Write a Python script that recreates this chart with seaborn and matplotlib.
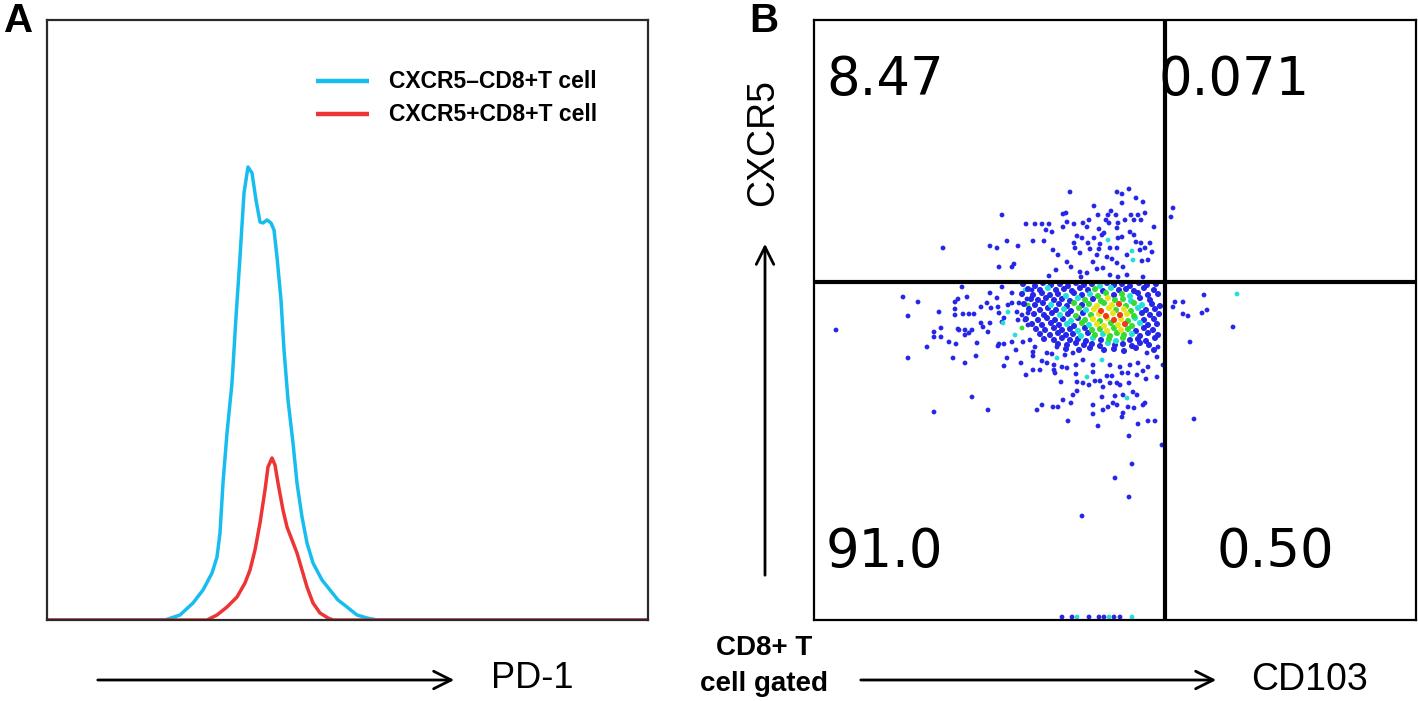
import matplotlib
matplotlib.use("Agg")
import matplotlib.pyplot as plt
from matplotlib.lines import Line2D
from matplotlib.patches import FancyArrowPatch
import seaborn as sns
import pandas as pd

# ---------------- Panel A data: PD-1 histograms (arbitrary units) ----------------
pd1_neg_x = [0, 118, 133, 146, 156, 165, 170, 173, 176, 180, 185, 189, 193, 197, 201, 205,
             209, 213, 216, 220, 224, 227, 230, 234, 237, 241, 246, 250, 255, 260, 266,
             275, 283, 291, 300, 310, 320, 330, 601]
pd1_neg_y = [0, 0, 5, 17, 30, 47, 63, 87, 137, 187, 237, 303, 363, 427, 453, 447,
             420, 398, 397, 400, 397, 390, 363, 320, 270, 220, 177, 137, 103, 77, 57,
             40, 30, 20, 13, 5, 2, 0, 0]
pd1_pos_x = [0, 160, 170, 180, 190, 198, 203, 208, 213, 218, 221, 225, 228, 231, 236, 240,
             245, 250, 255, 260, 266, 273, 281, 286, 601]
pd1_pos_y = [0, 0, 5, 13, 23, 37, 50, 70, 97, 130, 153, 162, 155, 137, 110, 93,
             80, 67, 50, 33, 17, 7, 2, 0, 0]
series_names = ["CXCR5\u2013CD8+T cell", "CXCR5+CD8+T cell"]
series_colors = ["#18bdef", "#ee3434"]

# ---------------- Panel B data: CD103 (x) vs CXCR5 (y) events ----------------
gate_x = 351
gate_y = 338
quadrant_values = ["8.47", "0.071", "91.0", "0.50"]   # UL, UR, LL, LR

upper_left_pts = [
    (188, 405, 'b'), (212, 396, 'b'), (221, 396, 'b'), (228, 396, 'b'), (235, 396, 'b'),
    (232, 390, 'b'), (238, 388, 'b'), (129, 372, 'b'), (176, 374, 'b'), (183, 372, 'b'),
    (193, 379, 'b'), (204, 374, 'b'), (219, 379, 'b'), (230, 379, 'b'), (239, 370, 'b'),
    (244, 365, 'b'), (185, 353, 'b'), (198, 353, 'b'), (200, 356, 'b'), (242, 350, 'b'),
    (235, 344, 'b'), (256, 428, 'b'), (303, 428, 'b'), (308, 426, 'b'), (315, 431, 'b'),
    (308, 417, 'b'), (322, 422, 'b'), (329, 418, 'b'), (280, 414, 'b'), (297, 409, 'b'),
    (249, 406, 'b'), (252, 407, 'b'), (284, 405, 'b'), (294, 405, 'b'), (302, 405, 'b'),
    (317, 405, 'b'), (324, 405, 'b'), (331, 407, 'b'), (253, 398, 'b'), (260, 396, 'b'),
    (269, 397, 'b'), (275, 400, 'b'), (292, 400, 'b'), (295, 397, 'b'), (304, 397, 'b'),
    (311, 400, 'b'), (320, 400, 'b'), (327, 400, 'b'), (340, 393, 'b'), (249, 393, 'b'),
    (273, 393, 'b'), (285, 391, 'b'), (303, 392, 'b'), (316, 388, 'b'), (290, 387, 'b'),
    (263, 384, 'b'), (268, 382, 'b'), (280, 382, 'b'), (288, 385, 'b'), (294, 380, 'c'),
    (304, 382, 'b'), (308, 383, 'b'), (320, 385, 'b'), (260, 377, 'b'), (274, 377, 'b'),
    (286, 376, 'b'), (296, 372, 'b'), (303, 372, 'b'), (322, 378, 'b'), (327, 377, 'b'),
    (336, 377, 'b'), (261, 372, 'b'), (276, 371, 'b'), (285, 371, 'b'), (318, 369, 'c'),
    (326, 370, 'b'), (331, 372, 'b'), (338, 368, 'b'), (266, 367, 'b'), (283, 365, 'b'),
    (293, 363, 'b'), (298, 361, 'b'), (313, 365, 'b'), (319, 360, 'c'), (328, 359, 'b'),
    (334, 360, 'b'), (253, 358, 'b'), (279, 358, 'b'), (303, 357, 'b'), (257, 353, 'b'),
    (283, 351, 'b'), (289, 352, 'b'), (309, 353, 'b'), (266, 348, 'b'), (273, 347, 'b'),
    (296, 345, 'b'), (304, 343, 'b'), (313, 345, 'b'), (329, 343, 'b'), (267, 343, 'b'),
]

right_pts = [
    (359, 412, 'b'), (357, 403, 'b'), (361, 318, 'b'), (369, 318, 'b'), (359, 313, 'b'),
    (390, 325, 'b'), (423, 326, 'c'), (369, 306, 'b'), (374, 304, 'b'), (388, 307, 'b'),
    (393, 310, 'b'), (419, 293, 'b'), (376, 278, 'b'), (380, 201, 'b'), (348, 175, 'b'),
]

lower_left_pts = [
    (113, 273, 'b'), (94, 262, 'b'), (135, 278, 'b'), (139, 262, 'b'), (151, 257, 'b'),
    (162, 264, 'b'), (185, 276, 'b'), (190, 276, 'b'), (198, 278, 'b'), (209, 278, 'b'),
    (221, 273, 'b'), (202, 270, 'b'), (219, 268, 'b'), (219, 264, 'b'), (193, 262, 'b'),
    (190, 254, 'b'), (207, 257, 'b'), (228, 259, 'b'), (233, 257, 'b'), (238, 266, 'b'),
    (240, 255, 'b'), (243, 262, 'c'), (212, 245, 'b'), (219, 250, 'b'), (226, 250, 'b'),
    (240, 250, 'b'), (158, 223, 'b'), (120, 208, 'b'), (174, 210, 'b'), (223, 210, 'b'),
    (228, 215, 'b'), (239, 213, 'b'), (244, 213, 'b'), (254, 199, 'b'), (249, 220, 'b'),
    (257, 217, 'b'), (259, 225, 'b'), (263, 229, 'b'), (279, 215, 'b'), (279, 206, 'b'),
    (289, 210, 'b'), (294, 213, 'b'), (284, 194, 'b'), (299, 217, 'b'), (303, 215, 'b'),
    (309, 207, 'b'), (308, 203, 'b'), (314, 213, 'b'), (320, 212, 'b'), (309, 225, 'b'),
    (319, 228, 'b'), (323, 225, 'b'), (313, 222, 'c'), (331, 217, 'b'), (329, 215, 'b'),
    (324, 196, 'b'), (334, 199, 'b'), (341, 199, 'b'), (315, 184, 'b'), (318, 156, 'b'),
    (301, 142, 'b'), (315, 123, 'b'), (268, 104, 'b'), (288, 223, 'b'), (301, 224, 'b'),
    (306, 235, 'b'), (315, 237, 'b'), (303, 237, 'b'), (296, 237, 'b'), (289, 233, 'b'),
    (286, 239, 'b'), (281, 239, 'b'), (275, 235, 'b'), (269, 237, 'b'), (263, 238, 'b'),
    (247, 238, 'b'), (343, 243, 'b'), (332, 241, 'b'), (329, 249, 'b'), (323, 245, 'b'),
    (314, 247, 'b'), (308, 247, 'b'), (298, 244, 'b'), (293, 244, 'b'), (279, 248, 'b'),
    (273, 243, 'c'), (262, 246, 'b'), (253, 252, 'b'), (241, 247, 'b'), (248, 253, 'b'),
    (262, 255, 'b'), (269, 260, 'b'), (279, 255, 'b'), (288, 260, 'c'), (296, 255, 'b'),
    (306, 253, 'b'), (316, 255, 'b'), (324, 257, 'b'), (334, 253, 'b'), (343, 263, 'b'),
    (344, 273, 'b'), (349, 255, 'b'), (233, 267, 'b'), (251, 265, 'b'), (259, 267, 'b'),
    (243, 273, 'b'), (333, 267, 'b'),
    (22, 290, 'b'), (89, 323, 'b'), (104, 318, 'b'), (94, 304, 'b'), (148, 333, 'b'),
    (125, 308, 'b'), (141, 318, 'b'), (144, 321, 'b'), (153, 323, 'b'), (141, 311, 'b'),
    (141, 305, 'b'), (149, 306, 'b'), (155, 306, 'b'), (160, 306, 'b'), (127, 292, 'b'),
    (120, 288, 'b'), (120, 283, 'b'), (127, 283, 'b'), (144, 291, 'b'), (151, 290, 'b'),
    (155, 287, 'b'), (158, 290, 'b'), (151, 285, 'b'), (167, 313, 'b'), (167, 297, 'b'),
    (169, 293, 'b'), (174, 288, 'b'), (176, 297, 'b'), (173, 317, 'b'), (177, 312, 'b'),
    (176, 327, 'b'), (183, 322, 'b'), (188, 333, 'b'), (198, 327, 'b'), (184, 313, 'b'),
    (185, 307, 'b'), (189, 297, 'c'), (190, 302, 'b'), (194, 308, 'c'), (194, 315, 'b'),
    (198, 317, 'b'), (205, 317, 'b'), (203, 308, 'b'), (211, 330, 'c'), (218, 330, 'b'),
    (214, 315, 'g'), (213, 321, 'b'), (208, 305, 'b'), (214, 307, 'b'), (204, 300, 'b'),
    (211, 300, 'b'), (214, 295, 'b'), (201, 285, 'c'), (208, 292, 'g'), (216, 280, 'b'),
    (188, 298, 'b'), (145, 290, 'b'), (142, 276, 'b'), (163, 277, 'b'), (184, 274, 'b'),
]

core_pts = [
    (209, 336, 'b'), (221, 334, 'b'), (229, 337, 'b'), (237, 335, 'b'), (246, 336, 'b'), (254, 334, 'b'),
    (262, 337, 'b'), (270, 335, 'b'), (278, 336, 'b'), (286, 334, 'c'), (293, 337, 'b'), (300, 335, 'b'),
    (308, 336, 'b'), (316, 334, 'b'), (325, 337, 'b'), (333, 335, 'b'), (342, 336, 'b'),
    (214, 331, 'b'), (226, 330, 'b'), (234, 332, 'c'), (242, 330, 'b'), (250, 331, 'b'), (258, 329, 'b'),
    (266, 332, 'b'), (274, 330, 'b'), (281, 331, 'g'), (289, 329, 'b'), (297, 332, 'c'), (305, 330, 'b'),
    (312, 331, 'b'), (320, 329, 'b'), (330, 332, 'b'), (340, 330, 'b'),
    (208, 326, 'b'), (219, 325, 'b'), (228, 327, 'b'), (236, 325, 'b'), (244, 326, 'b'), (252, 324, 'c'),
    (260, 327, 'b'), (268, 325, 'b'), (276, 326, 'c'), (284, 324, 'g'), (292, 327, 'g'), (300, 325, 'b'),
    (308, 326, 'g'), (316, 324, 'c'), (324, 327, 'b'), (334, 325, 'b'), (344, 326, 'b'),
    (217, 321, 'b'), (224, 320, 'b'), (232, 322, 'b'), (240, 320, 'b'), (248, 321, 'b'), (256, 319, 'b'),
    (264, 322, 'c'), (271, 320, 'g'), (279, 321, 'b'), (287, 319, 'g'), (294, 322, 'y'), (301, 320, 'g'),
    (309, 321, 'g'), (317, 319, 'c'), (326, 322, 'b'), (336, 320, 'b'),
    (210, 316, 'b'), (221, 315, 'b'), (229, 317, 'b'), (237, 315, 'c'), (245, 316, 'b'), (253, 314, 'b'),
    (260, 317, 'g'), (268, 315, 'b'), (275, 316, 'g'), (283, 314, 'y'), (290, 317, 'g'), (298, 315, 'y'),
    (305, 316, 'r'), (312, 314, 'g'), (320, 317, 'g'), (328, 315, 'c'), (338, 316, 'b'), (346, 314, 'b'),
    (215, 311, 'b'), (226, 310, 'b'), (234, 312, 'b'), (242, 310, 'b'), (250, 311, 'c'), (257, 309, 'b'),
    (265, 312, 'g'), (272, 310, 'c'), (280, 311, 'y'), (287, 309, 'r'), (295, 312, 'y'), (302, 310, 'g'),
    (310, 311, 'y'), (317, 309, 'g'), (324, 312, 'c'), (332, 310, 'b'), (341, 311, 'b'),
    (220, 306, 'b'), (230, 305, 'b'), (238, 307, 'b'), (246, 305, 'c'), (254, 306, 'b'), (262, 304, 'g'),
    (269, 307, 'b'), (277, 305, 'g'), (285, 306, 'y'), (292, 304, 'r'), (299, 307, 'y'), (306, 305, 'r'),
    (313, 306, 'y'), (320, 304, 'g'), (328, 307, 'b'), (336, 305, 'b'), (345, 306, 'b'),
    (212, 301, 'b'), (224, 300, 'b'), (233, 302, 'b'), (241, 300, 'b'), (249, 301, 'b'), (257, 299, 'c'),
    (264, 302, 'b'), (271, 300, 'g'), (279, 301, 'y'), (286, 299, 'g'), (293, 302, 'y'), (300, 300, 'r'),
    (307, 301, 'y'), (314, 299, 'g'), (321, 302, 'c'), (330, 300, 'b'), (340, 301, 'b'),
    (218, 296, 'b'), (228, 295, 'b'), (237, 297, 'b'), (245, 295, 'b'), (253, 296, 'c'), (260, 294, 'b'),
    (268, 297, 'g'), (275, 295, 'c'), (283, 296, 'y'), (290, 294, 'y'), (297, 297, 'g'), (304, 295, 'y'),
    (311, 296, 'r'), (318, 294, 'g'), (326, 297, 'c'), (334, 295, 'b'), (343, 296, 'b'),
    (222, 291, 'b'), (231, 290, 'b'), (240, 292, 'b'), (248, 290, 'b'), (256, 291, 'b'), (264, 289, 'c'),
    (271, 292, 'b'), (278, 290, 'g'), (286, 291, 'g'), (293, 289, 'y'), (300, 292, 'g'), (307, 290, 'y'),
    (314, 291, 'g'), (322, 289, 'b'), (330, 292, 'b'), (339, 290, 'b'),
    (226, 286, 'b'), (236, 285, 'b'), (244, 287, 'b'), (252, 285, 'b'), (259, 286, 'b'), (267, 284, 'c'),
    (274, 287, 'b'), (281, 285, 'g'), (289, 286, 'c'), (296, 284, 'g'), (303, 287, 'g'), (310, 285, 'g'),
    (318, 286, 'c'), (326, 284, 'b'), (334, 287, 'b'), (344, 285, 'b'),
    (230, 281, 'b'), (240, 280, 'b'), (248, 282, 'b'), (256, 280, 'b'), (264, 281, 'b'), (272, 279, 'b'),
    (279, 282, 'c'), (287, 280, 'b'), (295, 281, 'g'), (302, 279, 'c'), (309, 282, 'g'), (316, 280, 'b'),
    (324, 281, 'b'), (332, 279, 'b'), (341, 282, 'b'),
    (244, 276, 'b'), (253, 275, 'b'), (262, 277, 'b'), (270, 275, 'b'), (278, 276, 'b'), (286, 274, 'b'),
    (294, 277, 'c'), (301, 275, 'b'), (309, 276, 'b'), (318, 274, 'b'), (326, 277, 'b'), (335, 275, 'b'),
    (252, 271, 'b'), (265, 270, 'b'), (276, 272, 'b'), (290, 270, 'b'), (300, 271, 'b'), (310, 269, 'b'),
    (322, 272, 'b'), (340, 270, 'b'),
]

edge_pts = [
    (248, 3, 'b'), (258, 3, 'b'), (263, 3, 'c'), (275, 3, 'b'), (285, 3, 'b'), (290, 3, 'b'),
    (295, 3, 'c'), (300, 3, 'b'), (306, 3, 'b'), (318, 3, 'c'),
]

level_order = ['b', 'c', 'g', 'y', 'r']
level_colors = {'b': '#2626e8', 'c': '#22e0d8', 'g': '#34dc34', 'y': '#e8e41c', 'r': '#f03a16'}

# ---------------- build ----------------
sns.set_style("white")
plt.rcParams['font.family'] = ['Liberation Sans', 'DejaVu Sans']
plt.rcParams['text.color'] = 'black'

fig = plt.figure(figsize=(14.18, 7.01), dpi=100)
W, H = 1418.0, 701.0
axA = fig.add_axes([47 / W, 81 / H, 601 / W, 600 / H])
axB = fig.add_axes([814 / W, 81 / H, 602 / W, 600 / H])

# Panel A
sns.lineplot(x=pd1_neg_x, y=pd1_neg_y, sort=False, color=series_colors[0], lw=2.5, ax=axA)
sns.lineplot(x=pd1_pos_x, y=pd1_pos_y, sort=False, color=series_colors[1], lw=2.5, ax=axA)
axA.set_xlim(0, 601)
axA.set_ylim(0, 600)
axA.set_xticks([])
axA.set_yticks([])
axA.set_xlabel("")
axA.set_ylabel("")
for sp in axA.spines.values():
    sp.set_visible(True)
    sp.set_color("#2a2a2a")
    sp.set_linewidth(1.6)
    sp.set_zorder(5)

# legend (manual, matches reference placement)
for i, (name, col) in enumerate(zip(series_names, series_colors)):
    yy = 0.898 - i * 0.055
    axA.add_line(Line2D([0.4476, 0.5358], [yy, yy], transform=axA.transAxes,
                        color=col, lw=3.2, solid_capstyle='butt'))
    axA.text(0.569, yy, name, transform=axA.transAxes, ha='left', va='center',
             fontsize=16.5, fontweight='bold', color='black')

# Panel B
sparse = pd.DataFrame(upper_left_pts + right_pts + lower_left_pts + edge_pts,
                      columns=['CD103', 'CXCR5', 'level'])
core = pd.DataFrame(core_pts, columns=['CD103', 'CXCR5', 'level'])
rank = {k: i for i, k in enumerate(level_order)}
for frame, size in ((sparse, 12), (core, 19)):
    frame = frame.assign(rank=frame['level'].map(rank)).sort_values('rank', kind='stable')
    sns.scatterplot(data=frame, x='CD103', y='CXCR5', hue='level', hue_order=level_order,
                    palette=level_colors, s=size, linewidth=0, legend=False, ax=axB, zorder=2)
axB.set_xlim(0, 602)
axB.set_ylim(0, 600)
axB.set_xticks([])
axB.set_yticks([])
axB.set_xlabel("")
axB.set_ylabel("")
for sp in axB.spines.values():
    sp.set_visible(True)
    sp.set_color("black")
    sp.set_linewidth(1.6)
    sp.set_zorder(5)
axB.axvline(gate_x, color='black', lw=3.0, zorder=4)
axB.axhline(gate_y, color='black', lw=3.0, zorder=4)

qpos = [(0.020, 0.900), (0.573, 0.900), (0.020, 0.113), (0.669, 0.113)]
for (qx, qy), val in zip(qpos, quadrant_values):
    axB.text(qx, qy, val, transform=axB.transAxes, ha='left', va='center',
             fontsize=38, family='DejaVu Sans', color='black', zorder=3)

# Panel letters
fig.text(4 / W, 1 - 21 / H, "A", fontsize=29, fontweight='bold', ha='left', va='center')
fig.text(749 / W, 1 - 21 / H, "B", fontsize=29, fontweight='bold', ha='left', va='center')

# Axis arrows and labels
arrow_kw = dict(arrowstyle='->,head_length=0.9,head_width=0.45', lw=2.0, color='black')
fig.add_artist(FancyArrowPatch((95 / W, 1 - 680 / H), (457 / W, 1 - 680 / H),
                               transform=fig.transFigure, mutation_scale=14, **arrow_kw))
fig.text(491 / W, 1 - 678 / H, "PD-1", fontsize=26, ha='left', va='center')

fig.add_artist(FancyArrowPatch((858 / W, 1 - 680 / H), (1219 / W, 1 - 680 / H),
                               transform=fig.transFigure, mutation_scale=14, **arrow_kw))
fig.text(1251 / W, 1 - 680 / H, "CD103", fontsize=27, ha='left', va='center')

fig.add_artist(FancyArrowPatch((765 / W, 1 - 578 / H), (765 / W, 1 - 241 / H),
                               transform=fig.transFigure, mutation_scale=14, **arrow_kw))
fig.text(763 / W, 1 - 143 / H, "CXCR5", fontsize=27, rotation=90, ha='center', va='center')

fig.text(764 / W, 1 - 648 / H, "CD8+ T", fontsize=20, fontweight='bold', ha='center', va='center')
fig.text(764 / W, 1 - 684 / H, "cell gated", fontsize=20, fontweight='bold', ha='center', va='center')

fig.savefig("out.png", dpi=100, facecolor='white')
